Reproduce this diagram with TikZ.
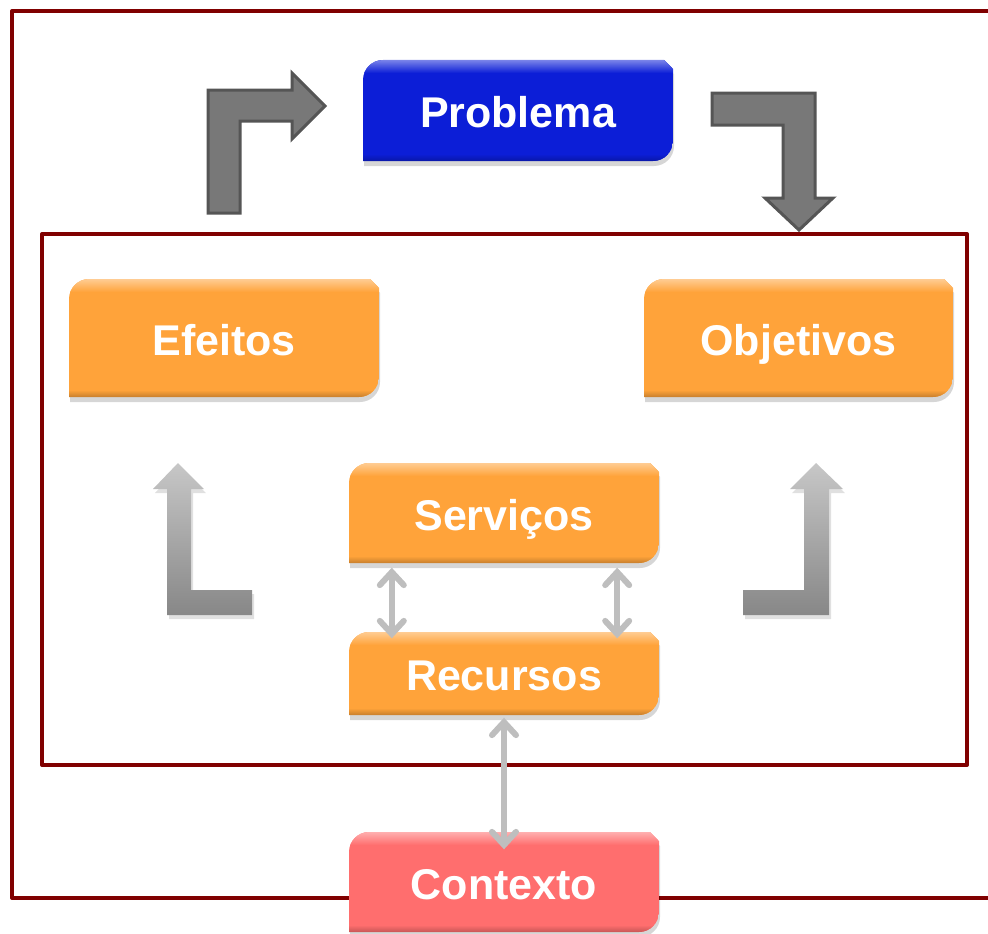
\documentclass[tikz,border=0pt]{standalone}
\usepackage{fontspec}
\setmainfont{Liberation Sans}
\usetikzlibrary{arrows.meta}
\definecolor{frame}{RGB}{128,0,0}
\definecolor{probblue}{RGB}{12,30,215}
\definecolor{orangebox}{RGB}{255,163,58}
\definecolor{ctxred}{RGB}{255,110,110}
\definecolor{blockfill}{RGB}{120,120,120}
\definecolor{blockline}{RGB}{85,85,85}
\definecolor{dblgray}{RGB}{190,190,190}
\tikzset{
  boxtext/.style={text=white,font=\fontsize{43}{43}\selectfont\bfseries,inner sep=0pt,draw=none,text height=31pt,text depth=0pt},
  framebox/.style={draw=frame,line width=4pt,line join=round},
  blockarrow/.style={fill=blockfill,draw=blockline,line width=3pt,line join=miter},
  softarrow/.style={top color=black!22,bottom color=black!47,draw=none},
  dblarrow/.style={draw=dblgray,line width=6pt,line cap=round,{Straight Barb[length=13pt,width=24pt,line cap=round]}-{Straight Barb[length=13pt,width=24pt,line cap=round]}}
}
% shape of a box: x1,y1 (top-left), x2,y2 (bottom-right); corner radius 20, control offset 11
\newcommand\bshape[4]{(#1,#4) -- (#1,{#2+20}) .. controls (#1,{#2+9}) and ({#1+9},#2) .. ({#1+20},#2) -- ({#3-9},#2) -- (#3,{#2+9}) -- (#3,{#4-20}) .. controls (#3,{#4-9}) and ({#3-9},#4) .. ({#3-20},#4) -- cycle}
% name, x1, y1, x2, y2, colour, text
\newcommand\gbox[7]{%
  \fill[black,opacity=.16,shift={(1,5)}] \bshape{#2}{#3}{#4}{#5};
  \begin{scope}
    \clip \bshape{#2}{#3}{#4}{#5};
    \fill[#6] (#2,#3) rectangle (#4,#5);
    \shade[top color=#6!55!white,bottom color=#6] (#2,#3) rectangle (#4,{#3+13});
    \shade[top color=#6,bottom color=#6!78!black] (#2,{#5-7}) rectangle (#4,#5);
  \end{scope}
  \node[boxtext,minimum width={#4-#2},minimum height={#5-#3}] (#1) at ({(#2+#4)/2},{(#3+#5)/2+1.5}) {#7};
}
\begin{document}
\begin{tikzpicture}[x=1pt,y=-1pt]
\useasboundingbox (0,0) rectangle (988,934);
\clip (0,0) rectangle (988,934);
% frames
\draw[framebox] (1000,11) -- (12,11) -- (12,898) -- (1000,898);
\draw[framebox] (42,234) rectangle (967,765);
% boxes
\gbox{prob}{363}{60}{673}{161}{probblue}{Problema}
\gbox{efe}{69}{279}{379}{397}{orangebox}{Efeitos}
\gbox{obj}{644}{279}{953}{397}{orangebox}{Objetivos}
\gbox{serv}{349}{463}{659}{563}{orangebox}{Serviços}
\gbox{rec}{349}{632}{659}{715}{orangebox}{Recursos}
\gbox{ctx}{349}{832}{659}{932}{ctxred}{Contexto}
% block arrows at the top
\draw[blockarrow] (208,213) -- (208,90) -- (292,90) -- (292,73) -- (325,106) -- (292,139) -- (292,121) -- (240,121) -- (240,213) -- cycle;
\draw[blockarrow] (712,93) -- (815,93) -- (815,198) -- (833,198) -- (799,230) -- (765,198) -- (783,198) -- (783,125) -- (712,125) -- cycle;
% soft arrows at the sides
\fill[black,opacity=.12,shift={(2,4)}] (167,615) -- (167,489) -- (153,489) -- (178,463) -- (204,489) -- (191,489) -- (191,590) -- (252,590) -- (252,615) -- cycle;
\shade[softarrow] (167,615) -- (167,489) -- (153,489) -- (178,463) -- (204,489) -- (191,489) -- (191,590) -- (252,590) -- (252,615) -- cycle;
\fill[black,opacity=.12,shift={(2,4)}] (829,615) -- (829,489) -- (843,489) -- (816,463) -- (790,489) -- (804,489) -- (804,590) -- (743,590) -- (743,615) -- cycle;
\shade[softarrow] (829,615) -- (829,489) -- (843,489) -- (816,463) -- (790,489) -- (804,489) -- (804,590) -- (743,590) -- (743,615) -- cycle;
% double arrows
\draw[dblarrow,shorten <=3pt,shorten >=-5pt] ([xshift=43pt]serv.south west) -- ([xshift=43pt]rec.north west);
\draw[dblarrow,shorten <=3pt,shorten >=-5pt] ([xshift=-42pt]serv.south east) -- ([xshift=-42pt]rec.north east);
\draw[dblarrow,shorten <=1pt,shorten >=-16pt] (rec.south) -- (ctx.north);
\end{tikzpicture}
\end{document}
